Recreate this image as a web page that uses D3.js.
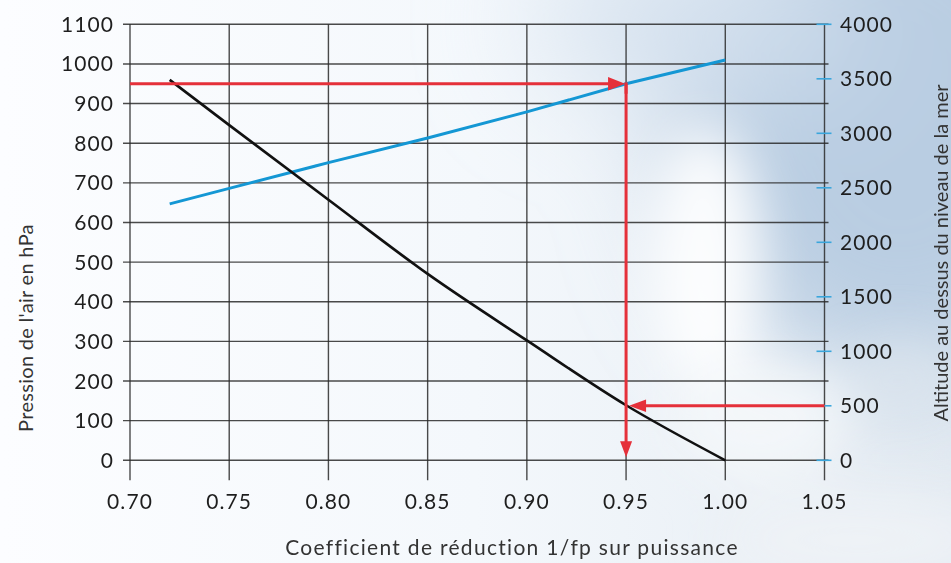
<!DOCTYPE html>
<html>
<head>
<meta charset="utf-8">
<script src="https://cdn.jsdelivr.net/npm/d3@7"></script>
<style>
  html, body { margin: 0; padding: 0; background: #fff; }
  svg { display: block; font-family: Lato, "Open Sans", sans-serif; }
</style>
</head>
<body>
<div id="chart"></div>
<script>
// chart values
const coeffs = [0.72, 0.75, 0.80, 0.85, 0.90, 0.95, 1.00];
const pressure = [647, 686, 751, 813, 879, 950, 1010];   // hPa, left axis
const altitude = [3490, 3075, 2390, 1710, 1100, 505, 0]; // m, right axis

const xTicks = [0.70, 0.75, 0.80, 0.85, 0.90, 0.95, 1.00, 1.05];
const pTicks = [0, 100, 200, 300, 400, 500, 600, 700, 800, 900, 1000, 1100];
const aTicks = [0, 500, 1000, 1500, 2000, 2500, 3000, 3500, 4000];

// worked example: 950 hPa -> 0.95, 500 m -> ~0.95
const readPressure = 950;
const readCoeff = 0.95;
const readAltitude = 500;
const readAltCoeff = 0.9515;

const width = 951, height = 563;
const margin = { top: 24.3, right: 126.5, bottom: 102.7, left: 130 };

const svg = d3.select('#chart')
	.append('svg')
	.attr('width', width)
	.attr('height', height);

// sky-ish background
const defs = svg.append('defs');
const bg = defs.append('linearGradient').attr('id', 'bg').attr('x1', 0).attr('x2', 1).attr('y1', 0).attr('y2', 0);
bg.append('stop').attr('offset', '0%').attr('stop-color', '#fcfdff');
bg.append('stop').attr('offset', '50%').attr('stop-color', '#f4f8fc');
bg.append('stop').attr('offset', '100%').attr('stop-color', '#e4ebf2');

const blurBig = defs.append('filter').attr('id', 'blurBig').attr('x', '-50%').attr('y', '-50%').attr('width', '200%').attr('height', '200%');
blurBig.append('feGaussianBlur').attr('stdDeviation', 60);
const blur = defs.append('filter').attr('id', 'blur').attr('x', '-50%').attr('y', '-50%').attr('width', '200%').attr('height', '200%');
blur.append('feGaussianBlur').attr('stdDeviation', 25);

svg.append('rect').attr('width', width).attr('height', height).attr('fill', 'url(#bg)');

// blue sky patch, top right
const sky = svg.append('g').attr('filter', 'url(#blurBig)');
sky.append('ellipse').attr('cx', 900).attr('cy', 120).attr('rx', 220).attr('ry', 260).attr('fill', '#b9cde2');
sky.append('ellipse').attr('cx', 700).attr('cy', 20).attr('rx', 160).attr('ry', 70).attr('fill', '#d3e0ee');

// soft cloud blobs
const clouds = svg.append('g').attr('filter', 'url(#blur)');
clouds.append('ellipse').attr('cx', 705).attr('cy', 260).attr('rx', 55).attr('ry', 130).attr('fill', '#ffffff').attr('opacity', 0.9);
clouds.append('ellipse').attr('cx', 760).attr('cy', 420).attr('rx', 90).attr('ry', 60).attr('fill', '#f4f7fa').attr('opacity', 0.9);
clouds.append('ellipse').attr('cx', 860).attr('cy', 540).attr('rx', 140).attr('ry', 45).attr('fill', '#eef2f6').attr('opacity', 0.9);
clouds.append('ellipse').attr('cx', 900).attr('cy', 380).attr('rx', 60).attr('ry', 40).attr('fill', '#dde6ee').attr('opacity', 0.7);

// scales
const x = d3.scaleLinear().domain([0.70, 1.05]).range([margin.left, width - margin.right]);
const yP = d3.scaleLinear().domain([0, 1100]).range([height - margin.bottom, margin.top]);
const yA = d3.scaleLinear().domain([0, 4000]).range([height - margin.bottom, margin.top]);

const gridColor = '#2a2a2a';

// horizontal grid (left axis ticks)
svg.append('g')
	.selectAll('line')
	.data(pTicks)
	.enter()
	.append('line')
	.attr('x1', x(0.70) - 7)
	.attr('x2', x(1.05) + 4)
	.attr('y1', d => yP(d))
	.attr('y2', d => yP(d))
	.attr('stroke', gridColor)
	.attr('stroke-opacity', 0.85)
	.attr('stroke-width', 1.4);

// vertical grid
svg.append('g')
	.selectAll('line')
	.data(xTicks)
	.enter()
	.append('line')
	.attr('x1', d => x(d))
	.attr('x2', d => x(d))
	.attr('y1', yP(1100))
	.attr('y2', yP(0) + 20)
	.attr('stroke', gridColor)
	.attr('stroke-opacity', 0.85)
	.attr('stroke-width', 1.4);

// right axis blue ticks
svg.append('g')
	.selectAll('line')
	.data(aTicks)
	.enter()
	.append('line')
	.attr('x1', x(1.05) - 8)
	.attr('x2', x(1.05) + 7)
	.attr('y1', d => yA(d))
	.attr('y2', d => yA(d))
	.attr('stroke', '#3aa6dc')
	.attr('stroke-width', 1.6);

// tick labels
const FONT = 21;
const SPACING = 1.1;
svg.append('g')
	.selectAll('text')
	.data(pTicks)
	.enter()
	.append('text')
	.attr('x', 114)
	.attr('y', d => yP(d))
	.attr('dy', '0.36em')
	.attr('text-anchor', 'end')
	.attr('font-size', FONT)
	.attr('letter-spacing', SPACING)
	.attr('fill', '#1e1e1e')
	.text(d => d);

svg.append('g')
	.selectAll('text')
	.data(aTicks)
	.enter()
	.append('text')
	.attr('x', 840)
	.attr('y', d => yA(d))
	.attr('dy', '0.36em')
	.attr('text-anchor', 'start')
	.attr('font-size', FONT)
	.attr('letter-spacing', SPACING)
	.attr('fill', '#1e1e1e')
	.text(d => d);

svg.append('g')
	.selectAll('text')
	.data(xTicks)
	.enter()
	.append('text')
	.attr('x', d => x(d))
	.attr('y', 509)
	.attr('text-anchor', 'middle')
	.attr('font-size', FONT)
	.attr('letter-spacing', SPACING)
	.attr('fill', '#1e1e1e')
	.text(d => d.toFixed(2));

// axis titles
svg.append('text')
	.attr('x', 512)
	.attr('y', 555)
	.attr('text-anchor', 'middle')
	.attr('font-size', 21)
	.attr('letter-spacing', 1.3)
	.attr('fill', '#333')
	.text('Coefficient de réduction 1/fp sur puissance');

svg.append('text')
	.attr('transform', `translate(33,328) rotate(-90)`)
	.attr('text-anchor', 'middle')
	.attr('font-size', 20)
	.attr('letter-spacing', 0.3)
	.attr('fill', '#333')
	.text("Pression de l'air en hPa");

svg.append('text')
	.attr('transform', `translate(948,253) rotate(-90)`)
	.attr('text-anchor', 'middle')
	.attr('font-size', 20)
	.attr('fill', '#333')
	.text('Altitude au dessus du niveau de la mer');

// series
const pressureLine = d3.line().x((d, i) => x(coeffs[i])).y(d => yP(d));
const altitudeLine = d3.line().x((d, i) => x(coeffs[i])).y(d => yA(d)).curve(d3.curveMonotoneX);

svg.append('path')
	.attr('d', pressureLine(pressure))
	.attr('fill', 'none')
	.attr('stroke', '#1497d4')
	.attr('stroke-width', 3);

svg.append('path')
	.attr('d', altitudeLine(altitude))
	.attr('fill', 'none')
	.attr('stroke', '#111')
	.attr('stroke-width', 2.6);

// red reading arrows
const RED = '#e5303a';
function arrow(x1, y1, x2, y2, len, half) {
	const dx = x2 - x1, dy = y2 - y1;
	const l = Math.hypot(dx, dy);
	const ux = dx / l, uy = dy / l;
	const bx = x2 - ux * len, by = y2 - uy * len;
	svg.append('line')
		.attr('x1', x1).attr('y1', y1)
		.attr('x2', bx + ux * 2).attr('y2', by + uy * 2)
		.attr('stroke', RED)
		.attr('stroke-width', 3);
	svg.append('polygon')
		.attr('points', [
			[x2, y2],
			[bx - uy * half, by + ux * half],
			[bx + uy * half, by - ux * half]
		].map(p => p.join(',')).join(' '))
		.attr('fill', RED);
}

arrow(x(0.70), yP(readPressure), x(readCoeff) - 1, yP(readPressure), 17, 6.7);
svg.append('line')
	.attr('x1', x(readCoeff)).attr('x2', x(readCoeff))
	.attr('y1', yP(readPressure) - 1.5).attr('y2', yP(readPressure) + 10)
	.attr('stroke', RED).attr('stroke-width', 3);
arrow(x(readCoeff), yP(readPressure), x(readCoeff), yP(0) - 3, 16, 6);
arrow(x(1.05), yA(readAltitude), x(readAltCoeff), yA(readAltitude), 17, 6.2);
</script>
</body>
</html>
